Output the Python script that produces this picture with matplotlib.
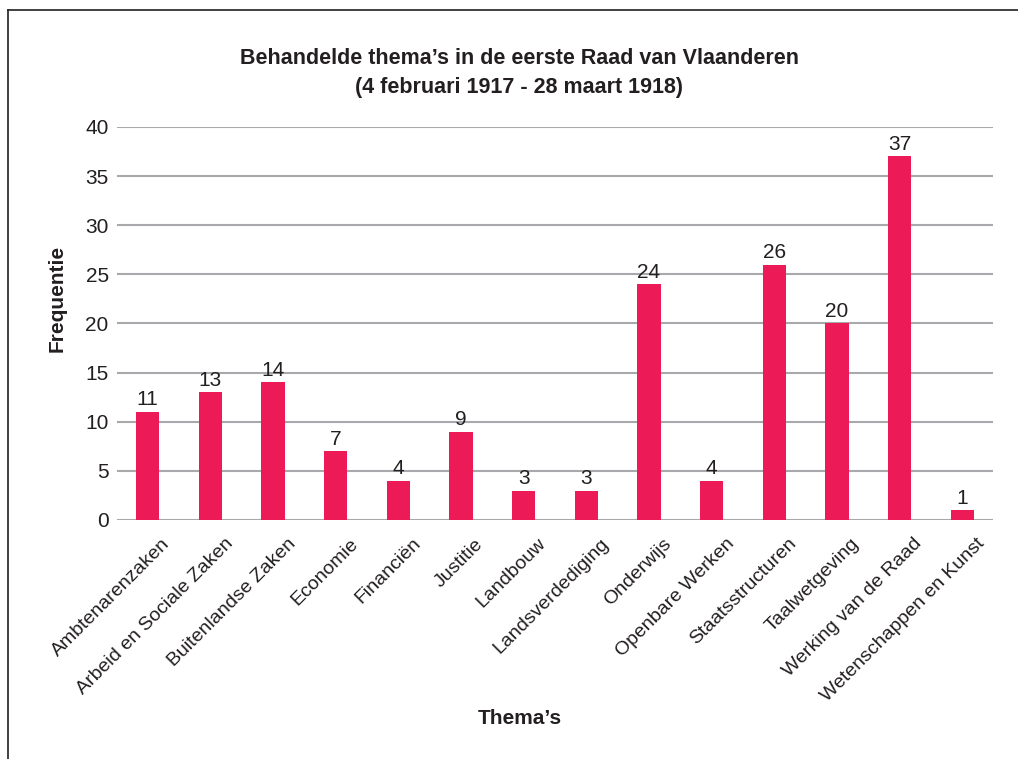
import matplotlib
matplotlib.use("Agg")
import matplotlib.pyplot as plt
import matplotlib.transforms as mtransforms
from matplotlib.lines import Line2D

# Data
themes = ["Ambtenarenzaken", "Arbeid en Sociale Zaken", "Buitenlandse Zaken",
          "Economie", "Financiën", "Justitie", "Landbouw", "Landsverdediging",
          "Onderwijs", "Openbare Werken", "Staatsstructuren", "Taalwetgeving",
          "Werking van de Raad", "Wetenschappen en Kunst"]
counts = [11, 13, 14, 7, 4, 9, 3, 3, 24, 4, 26, 20, 37, 1]
yticks = [0, 5, 10, 15, 20, 25, 30, 35, 40]

plt.rcParams['font.family'] = ['Liberation Sans', 'DejaVu Sans']
text_col = '#231f20'

fig = plt.figure(figsize=(10.18, 7.59), dpi=100)
ax = fig.add_axes([0.1149, 0.3149, 0.8605, 0.5178])

x = range(len(themes))
bars = ax.bar(x, counts, width=0.37, color='#ec1a56', zorder=3)
for b, v in zip(bars, counts):
    ax.text(b.get_x() + b.get_width() / 2, v + 0.25, str(v), ha='center', va='bottom',
            fontsize=15, color=text_col)

ax.set_xlim(-0.49, len(themes) - 0.51)
ax.set_ylim(0, 40)
ax.set_yticks(yticks)
ax.set_yticklabels([str(t) for t in yticks], fontsize=15, color=text_col)
ax.yaxis.grid(True, color='#a7a9ac', linewidth=1.5, zorder=0)
ax.tick_params(axis='y', length=0, pad=6)
ax.set_xticks(list(x))
ax.set_xticklabels(themes, rotation=45, ha='right', rotation_mode='anchor',
                   fontsize=14, color=text_col)
ax.tick_params(axis='x', length=0, pad=11)
shift = mtransforms.ScaledTranslation(14 / 100, 0, fig.dpi_scale_trans)
for lbl in ax.get_xticklabels():
    lbl.set_transform(lbl.get_transform() + shift)
for s in ax.spines.values():
    s.set_visible(False)

fig.text(57 / 1018, 1 - 298 / 759, "Frequentie", rotation=90, ha='center', va='center',
         fontsize=15, fontweight='bold', color=text_col)
fig.text(520 / 1018, 1 - 718 / 759, "Thema’s", ha='center', va='center',
         fontsize=15, fontweight='bold', color=text_col)
fig.text(519 / 1018, 1 - 73 / 759,
         "Behandelde thema’s in de eerste Raad van Vlaanderen\n(4 februari 1917 - 28 maart 1918)",
         ha='center', va='center', fontsize=15.5, fontweight='bold', color=text_col,
         linespacing=1.5)

# outer frame (left and top visible)
fig.add_artist(Line2D([0.0079, 0.0079], [0, 0.987], color=text_col, linewidth=1.2,
                      transform=fig.transFigure))
fig.add_artist(Line2D([0.0079, 1.0], [0.987, 0.987], color=text_col, linewidth=1.2,
                      transform=fig.transFigure))

fig.savefig("out.png", dpi=100)
